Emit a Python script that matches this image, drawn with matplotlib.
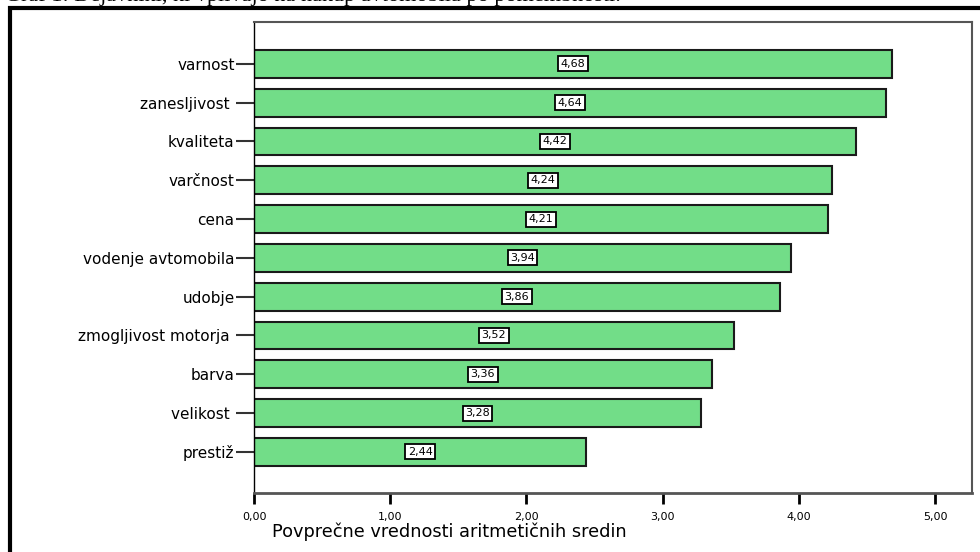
import matplotlib.pyplot as plt
from matplotlib.patches import Rectangle

plt.rcParams['font.family'] = ['DejaVu Sans']

# Data (top to bottom)
categories = ['varnost', 'zanesljivost ', 'kvaliteta', 'varčnost', 'cena',
              'vodenje avtomobila', 'udobje', 'zmogljivost motorja ',
              'barva', 'velikost ', 'prestiž']
means = [4.68, 4.64, 4.42, 4.24, 4.21, 3.94, 3.86, 3.52, 3.36, 3.28, 2.44]
xticks = [0, 1, 2, 3, 4, 5]
xtick_labels = ['0,00', '1,00', '2,00', '3,00', '4,00', '5,00']

fig = plt.figure(figsize=(9.8, 5.52), dpi=100)

# caption of the document, cut at the top of the picture
fig.text(0.005, 1 - 0.5 / 552,
         'Graf 1: Dejavniki, ki vplivajo na nakup avtomobila po pomembnosti.',
         family='Liberation Serif', fontsize=16, va='baseline', ha='left')

# thick outer frame
fig.patches.append(Rectangle((10 / 980, -0.2), 1.2, 1.2 - 8 / 552,
                             transform=fig.transFigure, fill=False,
                             edgecolor='black', linewidth=3))

ax = fig.add_axes([254 / 980, 1 - 493 / 552, 718 / 980, 471 / 552])
ypos = list(range(len(categories)))
ax.barh(ypos, means, height=0.72, color='#72dd88', edgecolor='#1a1a1a',
        linewidth=1.5)

for y, v in zip(ypos, means):
    ax.text(v / 2, y, f'{v:.2f}'.replace('.', ','), ha='center', va='center',
            fontsize=8,
            bbox=dict(facecolor='white', edgecolor='black', linewidth=1.3,
                      boxstyle='square,pad=0.22'))

ax.set_xlim(0, 5.27)
ax.set_ylim(len(categories) - 1 + 1.06, -1.08)
ax.set_yticks(ypos)
ax.set_yticklabels(categories, fontsize=11)
ax.set_xticks(xticks)
ax.set_xticklabels(xtick_labels, fontsize=8)
ax.tick_params(axis='y', length=13, width=1.5, pad=1, color='#333333')
ax.tick_params(axis='x', length=8, width=2, pad=6, color='black')

ax.set_xlabel('Povprečne vrednosti aritmetičnih sredin', fontsize=12.8)
ax.xaxis.set_label_coords((449 - 254) / 718, -0.062)

ax.spines['left'].set_color('black')
ax.spines['left'].set_linewidth(1)
ax.spines['bottom'].set_color('#555555')
ax.spines['bottom'].set_linewidth(2)
for s in ['top', 'right']:
    ax.spines[s].set_color('#555555')
    ax.spines[s].set_linewidth(1.5)

fig.savefig('out.png', dpi=100)
